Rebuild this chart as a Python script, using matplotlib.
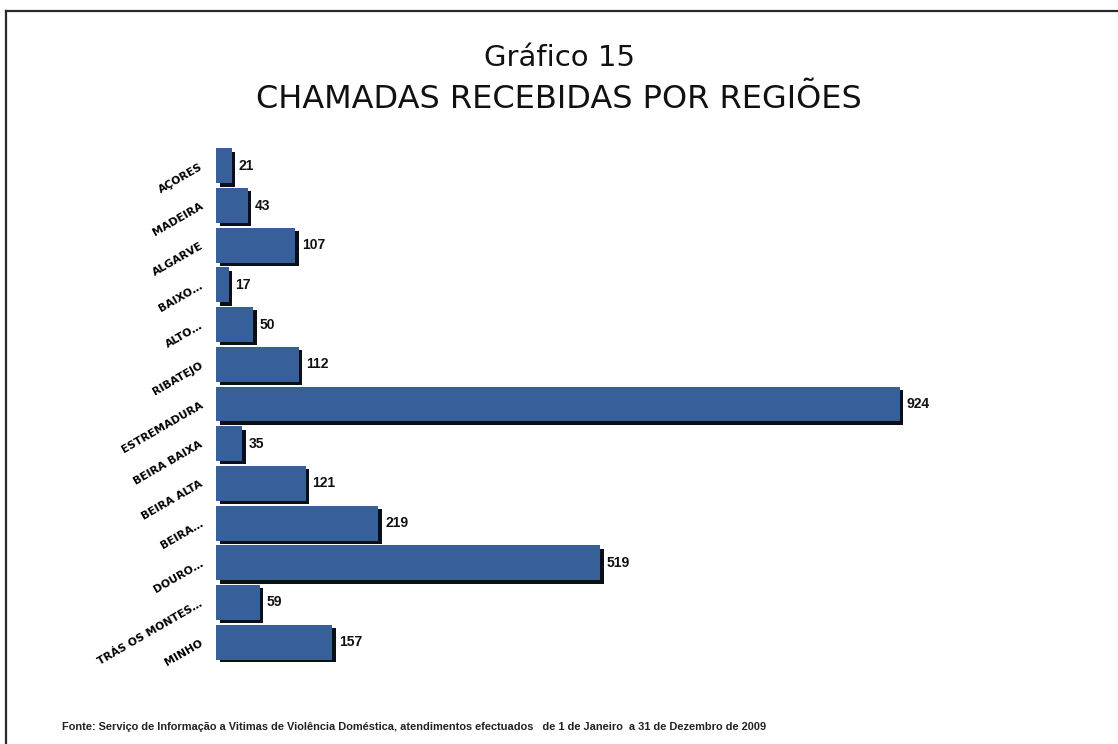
import matplotlib
matplotlib.use("Agg")
import matplotlib.pyplot as plt
from matplotlib import patheffects as pe
from matplotlib.lines import Line2D

regions = ["AÇORES", "MADEIRA", "ALGARVE", "BAIXO…", "ALTO…", "RIBATEJO",
           "ESTREMADURA", "BEIRA BAIXA", "BEIRA ALTA", "BEIRA…", "DOURO…",
           "TRÁS OS MONTES…", "MINHO"]
calls = [21, 43, 107, 17, 50, 112, 924, 35, 121, 219, 519, 59, 157]

title_line1 = "Gráfico 15"
title_line2 = "CHAMADAS RECEBIDAS POR REGIÕES"
source_note = ("Fonte: Serviço de Informação a Vitimas de Violência Doméstica, "
               "atendimentos efectuados   de 1 de Janeiro  a 31 de Dezembro de 2009")

W, H = 1118, 744
fig = plt.figure(figsize=(W / 100, H / 100), dpi=100)
fig.patch.set_facecolor("white")

# frame lines (left and top)
fig.add_artist(Line2D([6 / W, 6 / W], [0, 1 - 11 / H], transform=fig.transFigure,
                      color="#2a2a2a", lw=1.6))
fig.add_artist(Line2D([6 / W, 1], [1 - 11 / H, 1 - 11 / H], transform=fig.transFigure,
                      color="#2a2a2a", lw=1.6))

ax = fig.add_axes([216 / W, 1 - 662 / H, 740 / W, 516 / H])
ypos = list(range(len(regions)))
bars = ax.barh(ypos, calls, height=0.88, color="#37609a", edgecolor="none", zorder=2)
for b in bars:
    b.set_path_effects([pe.SimplePatchShadow(offset=(2.6, -2.4), shadow_rgbFace="#0b0f1a",
                                             alpha=1.0),
                        pe.Normal()])

ax.set_xlim(0, 1000)
ax.set_ylim(len(regions) - 0.5, -0.5)
for s in ax.spines.values():
    s.set_visible(False)
ax.set_xticks([])
ax.set_yticks(ypos)
ax.set_yticklabels(regions, rotation=30, rotation_mode="anchor", ha="right", va="center",
                   fontsize=7.8, fontweight="bold", family="DejaVu Sans")
ax.tick_params(axis="y", length=0, pad=10)

for y, v in zip(ypos, calls):
    ax.annotate(str(v), (v, y), xytext=(5, 0), textcoords="offset points",
                ha="left", va="center", fontsize=10, fontweight="bold",
                family="Liberation Sans", color="#111111")

fig.text(0.5, 1 - 58 / H, title_line1, ha="center", va="center", fontsize=21,
         family="DejaVu Sans", color="#111111")
fig.text(0.5, 1 - 100 / H, title_line2, ha="center", va="center", fontsize=23,
         family="DejaVu Sans", color="#111111")
fig.text(62 / W, 1 - 727 / H, source_note, ha="left", va="center", fontsize=7.9,
         fontweight="bold", family="Liberation Sans", color="#222222")

fig.savefig("out.png", dpi=100)
